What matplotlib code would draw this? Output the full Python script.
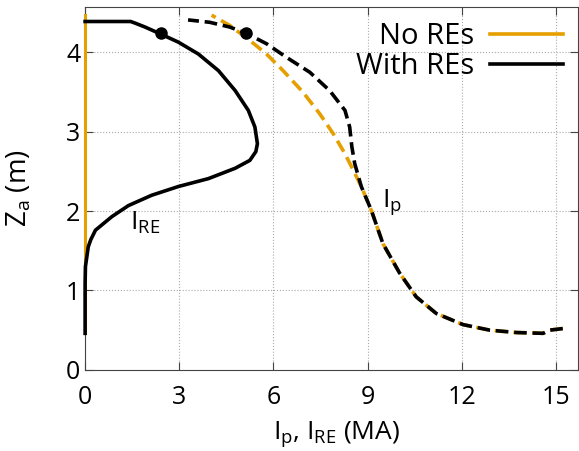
import matplotlib
matplotlib.use("Agg")
import matplotlib.pyplot as plt

plt.rcParams['font.family'] = ['Open Sans', 'DejaVu Sans']
plt.rcParams['mathtext.fontset'] = 'custom'
plt.rcParams['mathtext.rm'] = 'Open Sans'
plt.rcParams['mathtext.it'] = 'Open Sans'

ORANGE = '#e69f00'

# With REs: runaway current I_RE (MA) vs Z_a (m)
ire_with = [0.0, 0.0, 0.01, 0.10, 0.18, 0.33, 0.85, 1.38, 2.12, 2.97, 3.93, 4.78, 5.25, 5.44,
            5.49, 5.41, 5.20, 4.78, 4.25, 3.61, 2.97, 2.42, 1.91, 1.59, 1.45, 0.0]
z_ire_with = [0.46, 1.09, 1.30, 1.55, 1.64, 1.76, 1.93, 2.07, 2.20, 2.31, 2.41, 2.54, 2.64, 2.75,
              2.85, 3.06, 3.27, 3.52, 3.77, 3.98, 4.13, 4.23, 4.32, 4.37, 4.39, 4.39]

# With REs: plasma current I_p
ip_with = [15.22, 14.80, 14.65, 14.59, 13.74, 12.89, 12.04, 11.19, 10.55, 10.02, 9.49, 9.12,
           8.80, 8.59, 8.50, 8.43, 8.28, 7.79, 7.16, 6.41, 5.78, 5.14, 4.61, 3.97, 3.28]
z_ip_with = [0.52, 0.50, 0.47, 0.46, 0.47, 0.50, 0.57, 0.71, 0.92, 1.22, 1.59, 2.01,
             2.31, 2.60, 2.81, 3.06, 3.27, 3.52, 3.75, 3.94, 4.11, 4.24, 4.32, 4.38, 4.41]

# No REs
ire_no = [0.0, 0.0]
z_ire_no = [0.46, 4.47]
ip_no = [15.22, 14.80, 14.59, 13.74, 12.89, 12.04, 11.19, 10.55, 10.02, 9.49, 9.12, 8.80,
         8.54, 8.27, 7.90, 7.47, 6.94, 6.31, 5.78, 5.25, 4.61, 4.03]
z_ip_no = [0.52, 0.50, 0.46, 0.47, 0.50, 0.57, 0.71, 0.92, 1.22, 1.59, 2.01, 2.31,
           2.52, 2.73, 2.98, 3.23, 3.50, 3.77, 3.98, 4.15, 4.34, 4.47]

# dots on the With REs curves
mk_x = [2.42, 5.14]
mk_z = [4.24, 4.24]

fig = plt.figure(figsize=(5.79, 4.51), dpi=100)
ax = fig.add_axes([0.147, 0.180, 0.851, 0.804])

ax.plot(ire_no, z_ire_no, '-', color=ORANGE, lw=2.2, clip_on=False, zorder=3)
ax.plot(ip_no, z_ip_no, '--', color=ORANGE, lw=2.6, dashes=(3.5, 1.7), zorder=3)
ax.plot(ire_with, z_ire_with, '-', color='black', lw=2.6, solid_joinstyle='round',
        clip_on=False, zorder=4)
ax.plot(ip_with, z_ip_with, '--', color='black', lw=2.6, dashes=(3.5, 1.6), zorder=4)
ax.plot(mk_x, mk_z, 'o', color='black', ms=8, ls='none', zorder=5)

# legend proxies
ax.plot([], [], '-', color=ORANGE, lw=2.6, label='No REs')
ax.plot([], [], '-', color='black', lw=2.6, label='With REs')
ax.legend(loc='upper right', frameon=False, fontsize=21, markerfirst=False,
          handlelength=2.5, borderaxespad=0.2, borderpad=0.3, labelspacing=0.05,
          handletextpad=0.55)

ax.text(1.42, 1.76, r'$\mathrm{I_{RE}}$', fontsize=19, va='baseline')
ax.text(9.45, 2.05, r'$\mathrm{I_p}$', fontsize=19, va='baseline')

ax.set_xlim(0, 15.7)
ax.set_ylim(0, 4.57)
ax.set_xticks([0, 3, 6, 9, 12, 15])
ax.set_yticks([0, 1, 2, 3, 4])
ax.grid(True, ls=':', color='#aaaaaa', lw=0.8)
ax.tick_params(direction='in', top=True, right=True, labelsize=18, length=6, color='#444444')
ax.tick_params(axis='x', pad=11)
for s in ax.spines.values():
    s.set_color('#444444')
ax.set_xlabel(r'$\mathrm{I_p}$, $\mathrm{I_{RE}}$ (MA)', fontsize=19)
ax.set_ylabel(r'$\mathrm{Z_a}$ (m)', fontsize=20)
ax.xaxis.set_label_coords(0.51, -0.135)
ax.yaxis.set_label_coords(-0.105, 0.5)

fig.savefig('out.png', dpi=100)
